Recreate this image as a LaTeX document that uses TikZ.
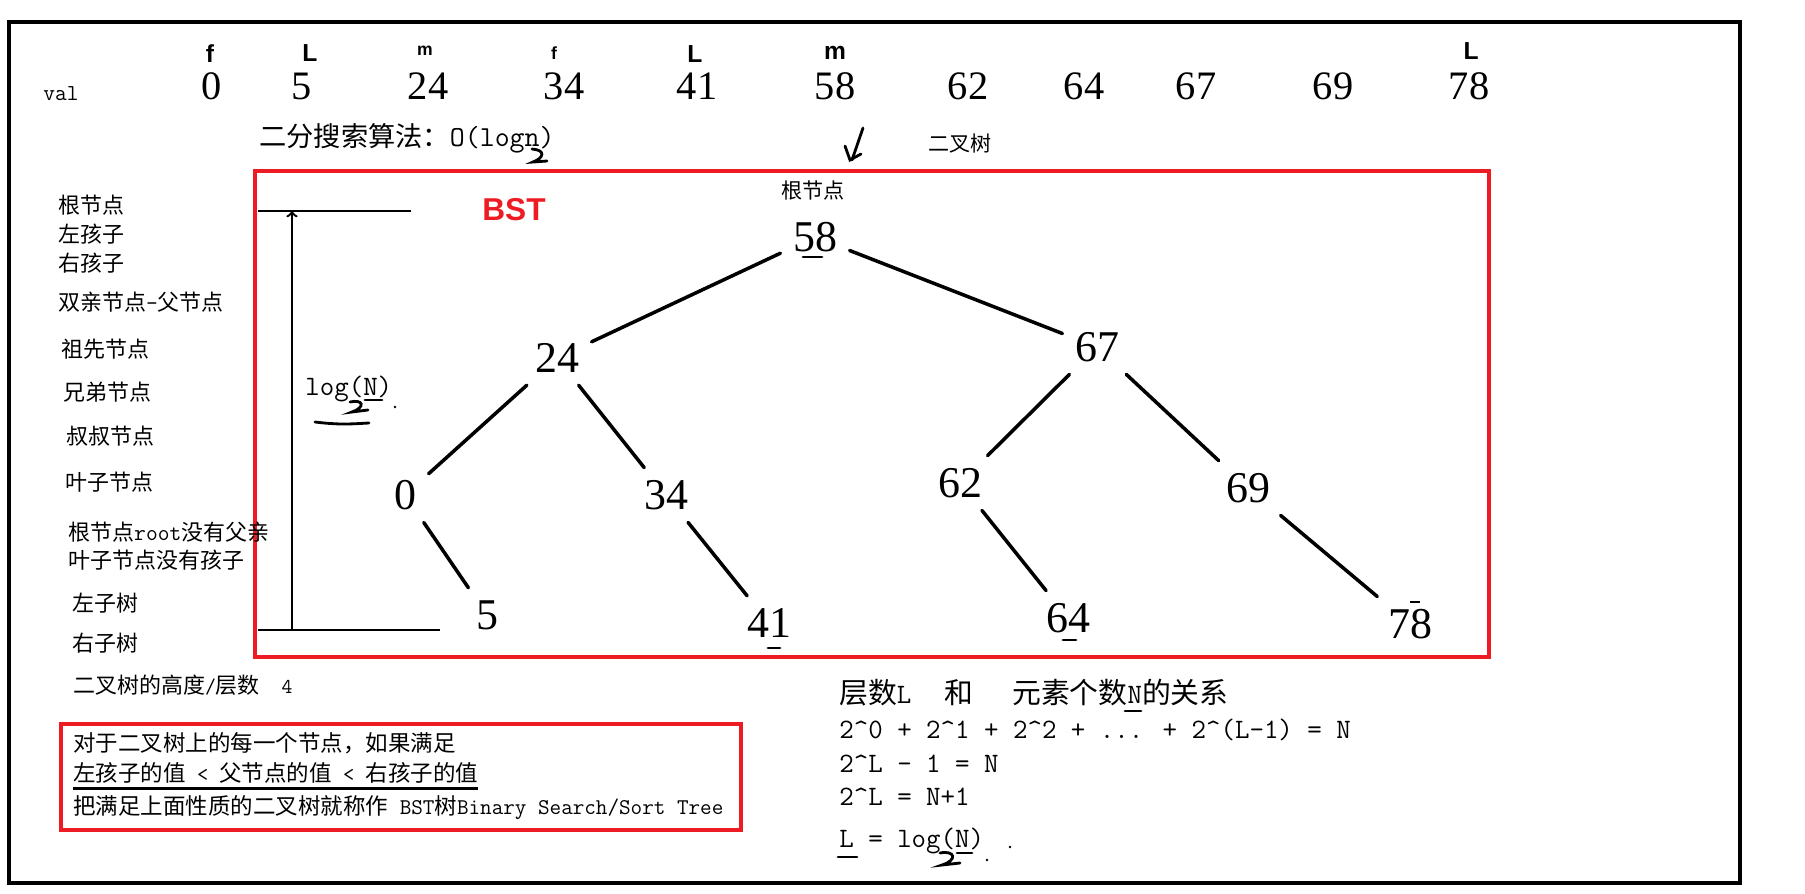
\documentclass[tikz,border=0pt]{standalone}
\usepackage{fontspec}
\setmainfont{Liberation Serif}
\setsansfont{Liberation Sans}
\newfontfamily\cjk{Noto Sans CJK SC}
\newcommand{\fsz}[1]{\fontsize{#1}{#1}\selectfont}
\definecolor{bstred}{RGB}{237,28,36}
\begin{document}
\begin{tikzpicture}[
  x=0.02cm, y=-0.02cm,
  topnum/.style={anchor=base, inner sep=0pt, font=\fsz{23}},
  num/.style={inner sep=7pt, font=\fsz{25}},
  handmark/.style={inner sep=0pt, font=\sffamily\bfseries\fsz{#1}},
  term/.style={anchor=west, inner sep=0pt, font=\cjk\fsz{12.5}},
  formula/.style={anchor=base west, inner sep=0pt, font=\ttfamily\fsz{16}},
  link/.style={line width=2pt, line cap=round},
  redbox/.style={draw=bstred, line width=1.9pt},
  scribble/.style={line width=1.6pt, line cap=round},
  bar/.style={line width=1.3pt}
]
\useasboundingbox (0,0) rectangle (1805,893);
\draw[line width=2.3pt] (9,22) rectangle (1740,883);

\node[anchor=base west, inner sep=0pt, font=\ttfamily\fsz{13}] (val) at (43,100) {val};
\foreach \v/\x in {0/212,5/302,24/428,34/564,41/697,58/835,62/968,64/1084,67/1196,69/1333,78/1469}
  \node[topnum] (v\v) at (\x,99) {\v};
\foreach \ch/\x/\y/\s [count=\i] in {f/210/54/14,L/310/53/14,m/425/51/10,f/554/53/10,L/695/54/14,m/835/53/14,L/1471/51/14}
  \node[handmark=\s] (h\i) at (\x,\y) {\ch};

\node[anchor=west, inner sep=0pt] (bsearch) at (259,138) {{\cjk\fsz{15.5}二分搜索算法：}{\ttfamily\fsz{16.5}O(logn)}};
\node[anchor=west, inner sep=0pt, font=\cjk\fsz{12}] (bt) at (928,143) {二叉树};
\draw[scribble] (532,149) .. controls (546,150) and (544,158) .. (533,162) -- (547,161);
\draw[scribble] (863,128) -- (852,160);
\draw[scribble] (845,146) -- (850,160) -- (861,154);

\draw[redbox] (255,171) rectangle (1489,657);
\node[font=\sffamily\bfseries\fsz{18}, text=bstred, inner sep=0pt] (bst) at (514,210) {BST};
\node[font=\cjk\fsz{12}, inner sep=0pt] (rootlbl) at (813,190) {根节点};

\node[num] (n58) at (815,237) {58};
\node[num] (n24) at (557,358) {24};
\node[num] (n67) at (1097,347) {67};
\node[num] (n0) at (405,495) {0};
\node[num] (n34) at (666,495) {34};
\node[num] (n62) at (960,483) {62};
\node[num] (n69) at (1248,488) {69};
\node[num] (n5) at (487,615) {5};
\node[num] (n41) at (769,623) {41};
\node[num] (n64) at (1068,618) {64};
\node[num] (n78) at (1410,624) {78};
\foreach \a/\b in {n58/n24,n58/n67,n24/n0,n24/n34,n0/n5,n34/n41,n67/n62,n67/n69,n62/n64,n69/n78}
  \draw[link] (\a) -- (\b);
\draw[scribble] (803,257) -- (822,257);
\draw[scribble] (768,648) -- (780,648);
\draw[scribble] (1063,640) -- (1076,640);
\draw[line width=0.8pt] (1410,602) -- (1420,602);

\coordinate (htop) at (292,211);
\coordinate (hbot) at (292,630);
\draw[bar] (258,211) -- (411,211);
\draw[bar] (258,630) -- (440,630);
\draw[bar, ->] (hbot) -- (htop);
\node[anchor=base west, inner sep=0pt, font=\ttfamily\fsz{16}] (logn) at (305,395) {log(N)};
\draw[scribble] (350,402) .. controls (363,399) and (366,407) .. (352,412) -- (368,410);
\draw[scribble] (365,400) -- (382,400);
\fill (395,407) circle[radius=0.8pt];
\draw[scribble] (315,422) .. controls (340,425) and (350,424) .. (369,423);

\node[term] (root) at (58,205) {根节点};
\node[term] (lchild) at (58,234) {左孩子};
\node[term] (rchild) at (58,263) {右孩子};
\node[term] (parent) at (58,302) {双亲节点{\ttfamily\fsz{13}-}父节点};
\node[term] (ancestor) at (61,349) {祖先节点};
\node[term] (sibling) at (63,392) {兄弟节点};
\node[term] (uncle) at (66,436) {叔叔节点};
\node[term] (leaf) at (65,482) {叶子节点};
\node[term] (noparent) at (68,532) {根节点{\ttfamily\fsz{13}root}没有父亲};
\node[term] (nochild) at (68,560) {叶子节点没有孩子};
\node[term] (lsub) at (72,603) {左子树};
\node[term] (rsub) at (72,643) {右子树};
\node[term] (height) at (73,685) {二叉树的高度{\ttfamily\fsz{12}/}层数{\ttfamily\fsz{12}\ \ 4}};

\draw[redbox] (61,724) rectangle (741,830);
\node[term, font=\cjk\fsz{12.8}] (rule1) at (73,743) {对于二叉树上的每一个节点，如果满足};
\node[term, font=\cjk\fsz{12.8}] (rule2) at (73,773) {左孩子的值{\ttfamily\fsz{12.4}\ <\ }父节点的值{\ttfamily\fsz{12.4}\ <\ }右孩子的值};
\draw[line width=1.7pt] ([yshift=-2.8pt]rule2.south west) -- ([yshift=-2.8pt]rule2.south east);
\node[term, font=\cjk\fsz{12.8}] (rule3) at (73,808) {把满足上面性质的二叉树就称作{\ttfamily\fsz{12.8}\ BST}树{\ttfamily\fsz{12.8}Binary Search/Sort Tree}};

\node[anchor=west, inner sep=0pt, font=\ttfamily\fsz{16}] (rel) at (839,693) {{\cjk\fsz{16.4}层数}L\hspace{19pt}{\cjk\fsz{16.4}和}\hspace{22pt}{\cjk\fsz{16.4}元素个数}N{\cjk\fsz{16.4}的关系}};
\node[formula] (sum) at (839,738) {2\textasciicircum0 + 2\textasciicircum1 + 2\textasciicircum2 + ... + 2\textasciicircum(L-1) = N};
\node[formula] (step1) at (839,772) {2\textasciicircum L - 1 = N};
\node[formula] (step2) at (839,805) {2\textasciicircum L = N+1};
\node[formula] (result) at (839,847) {L = log(N)};
\draw[scribble] (1125,711) -- (1141,711);
\draw[scribble] (838,857) -- (857,857);
\draw[scribble] (940,853) .. controls (955,850) and (958,860) .. (942,865) -- (960,863);
\draw[scribble] (957,853) -- (972,853);
\fill (987,860) circle[radius=0.8pt];
\fill (1010,847) circle[radius=0.8pt];
\end{tikzpicture}
\end{document}
